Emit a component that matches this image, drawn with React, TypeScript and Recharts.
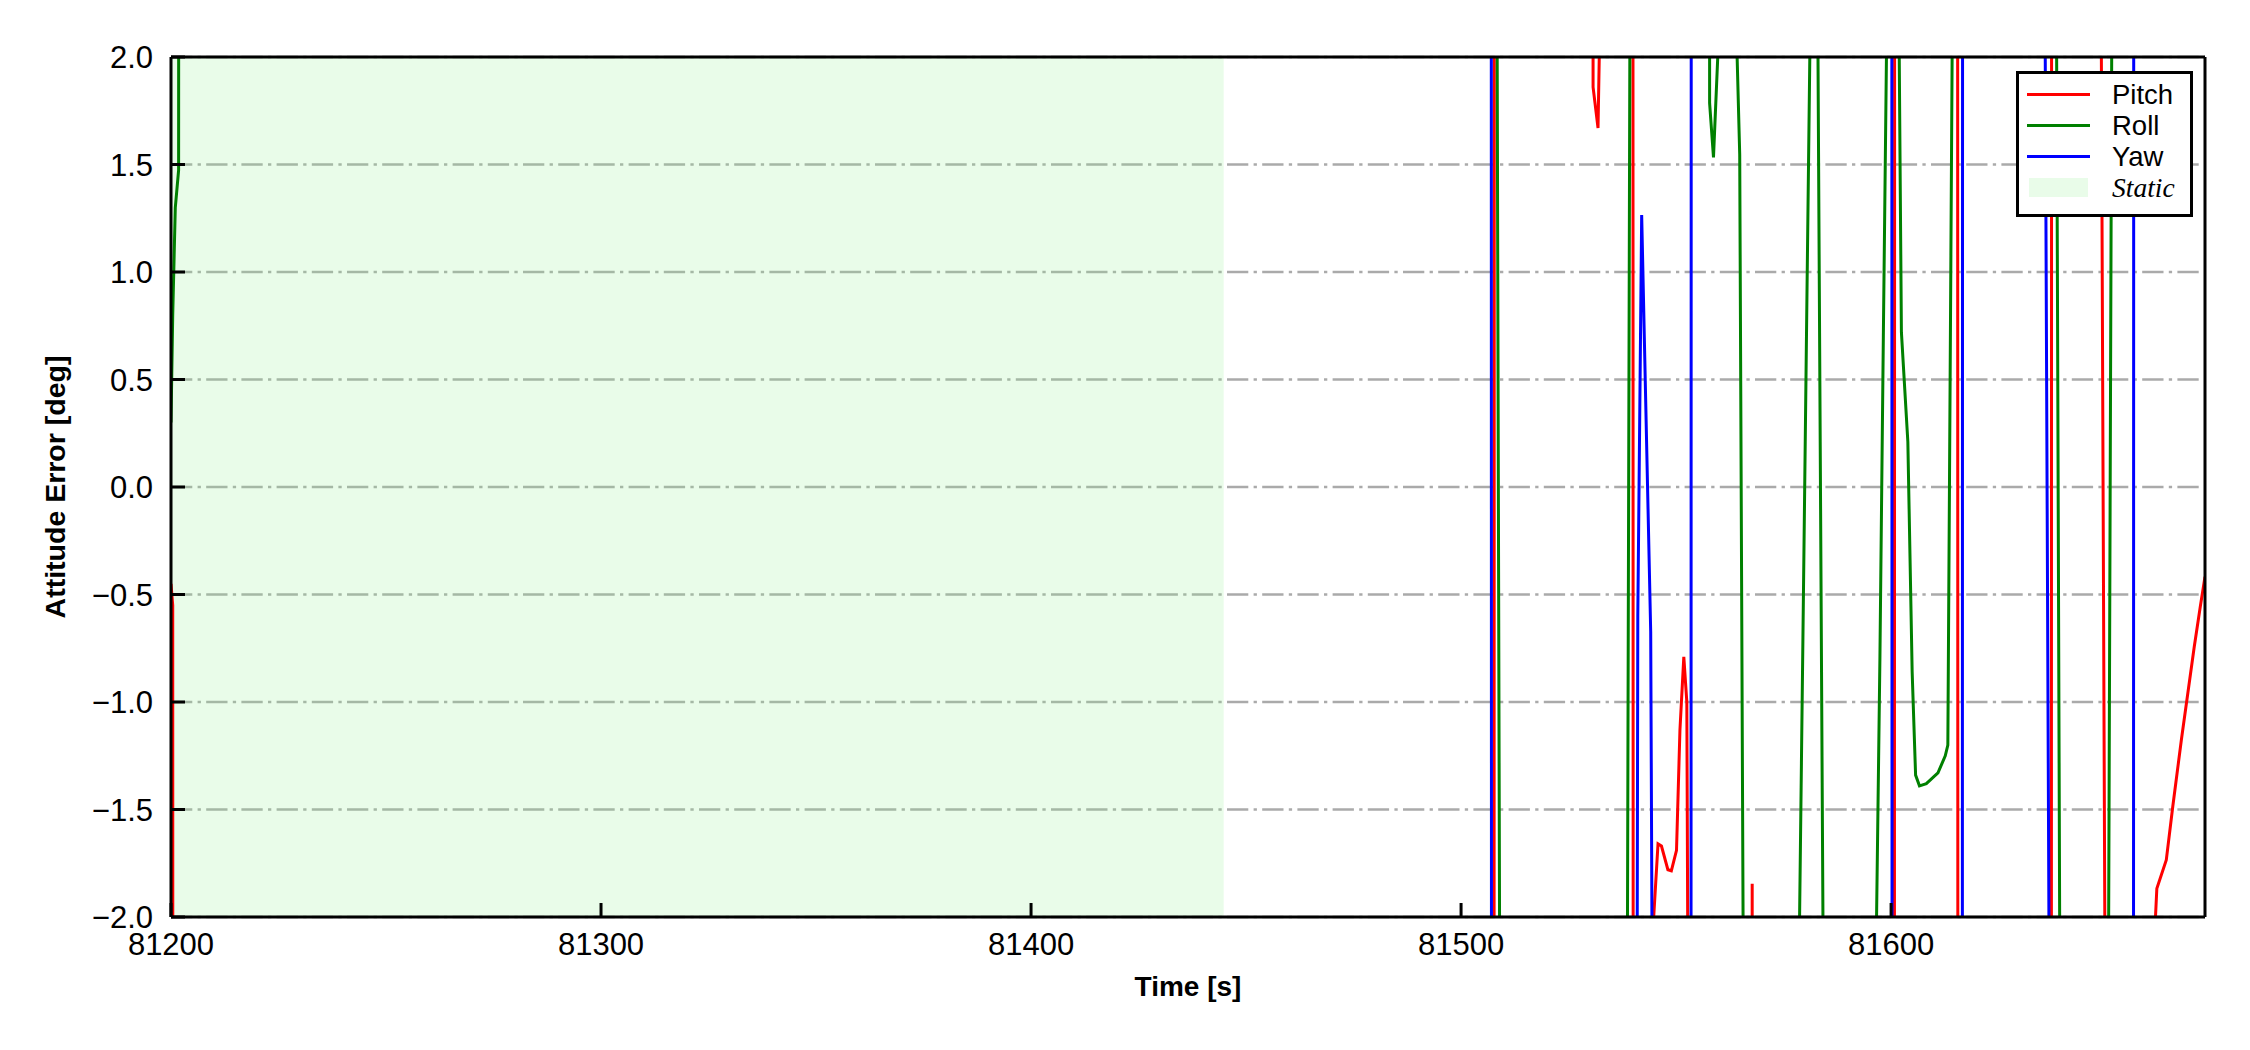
import React from 'react';
import { LineChart, Line, XAxis, YAxis, CartesianGrid, ReferenceArea } from 'recharts';

// ---- data (time [s], attitude error [deg]); values outside ±2 are clipped off-plot ----
const pitchTime = [
  81200, 81200.4, 81200.7, 81507.4, 81508.0, 81530.4, 81530.7, 81531.85, 81532.4, 81533.0,
  81539.7, 81540.3, 81544.3, 81544.65, 81545.8, 81546.6, 81548.1, 81548.9, 81550.1,
  81550.9, 81551.8, 81552.5, 81552.9, 81553.2, 81567.3, 81567.7, 81568.1, 81600.5,
  81601.1, 81615.2, 81615.8, 81637.0, 81637.6, 81648.6, 81650.0, 81660.8, 81661.25,
  81661.8, 81664.0, 81665.5, 81667.5, 81670.5, 81671.9, 81673,
];
const pitchValue = [
  -0.45, -0.55, -30, -30, 30, 30, 1.86, 1.67, 2.3, 30,
  30, -30, -4, -2.05, -1.66, -1.67, -1.78, -1.785, -1.69,
  -1.13, -0.79, -1.0, -3.0, -30, -30, -1.845, -30, -30,
  30, 30, -30, -30, 30, 3.5, -3.5, -30, -2.1,
  -1.867, -1.735, -1.487, -1.177, -0.743, -0.557, -0.417,
];

const rollTime = [
  81200, 81200.4, 81201.0, 81201.77, 81202.3, 81507.5, 81508.1, 81509.3, 81510.0,
  81538.0, 81538.4, 81539.6, 81540.3, 81557.5, 81557.8, 81558.7, 81559.8, 81560.5,
  81563.0, 81563.6, 81564.8, 81566.0, 81567.0, 81577.3, 81578.0, 81579.5, 81580.5,
  81581.7, 81582.1, 81582.6, 81584.5, 81585.2, 81595.6, 81596.3, 81597.4, 81598.2,
  81599.2, 81600.0, 81601.0, 81601.5, 81602.4, 81603.9, 81604.9, 81605.7, 81606.6,
  81608.2, 81610.9, 81612.6, 81613.2, 81614.6, 81615.3, 81637.5, 81638.2, 81639.5,
  81640.2, 81649.6, 81650.3, 81651.6, 81652.3, 81673,
];
const rollValue = [
  0.3, 0.8, 1.3, 1.474, 30, 30, 4.2, -4.6, -30,
  -30, -4.2, 4.6, 30, 30, 1.785, 1.533, 2.05, 30,
  30, 2.45, 1.545, -3.9, -30, -30, -3.2, -0.7, 1.0,
  3.0, 30, 3.4, -3.2, -30, -30, -2.5, -0.8, 0.7,
  2.5, 30, 30, 3.0, 0.72, 0.21, -0.86, -1.34, -1.39,
  -1.38, -1.33, -1.25, -1.2, 3.3, 30, 30, 3.7, -3.7,
  -30, -30, -3.7, 3.7, 30, 30,
];

const yawTime = [
  81200, 81506.8, 81507.3, 81540.2, 81540.6, 81541.1, 81542.0, 81544.1, 81544.6,
  81545.2, 81553.2, 81553.8, 81599.9, 81600.5, 81616.3, 81616.9, 81635.0, 81635.5,
  81637.0, 81637.6, 81656.1, 81656.7, 81673,
];
const yawValue = [
  30, 30, -30, -30, -6, -0.6, 1.265, -0.674, -3.0,
  -30, -30, 30, 30, -30, -30, 30, 30, 3.65,
  -3.4, -30, -30, 30, 30,
];

const seriesNames = ['Pitch', 'Roll', 'Yaw'];
const seriesColors = ['#ff0000', '#008000', '#0000ff'];
const staticLabel = 'Static';
const staticSpan = [81200, 81444.8];

const xTicks = [81200, 81300, 81400, 81500, 81600];
const yTicks = [-2, -1.5, -1, -0.5, 0, 0.5, 1, 1.5, 2];
const xDomain = [81200, 81673];
const yDomain = [-2, 2];
const xTitle = 'Time [s]';
const yTitle = 'Attitude Error [deg]';

const toRows = (ts: number[], vs: number[]) => ts.map((t, i) => ({ t, v: vs[i] }));
const seriesData = [
  toRows(pitchTime, pitchValue),
  toRows(rollTime, rollValue),
  toRows(yawTime, yawValue),
];

const SANS = '"Liberation Sans", Arial, Helvetica, sans-serif';
const SERIF = '"Liberation Serif", "Times New Roman", serif';
const fmtY = (v: number) => v.toFixed(1).replace('-', '\u2212');

const axisStroke = { stroke: '#000', strokeWidth: 3 };
const tickFont = { fontSize: 31, fill: '#000', fontFamily: SANS };

export default function App() {
  const rowY = [94.5, 125.5, 156.5, 187.5];
  return (
    <div style={{ position: 'absolute', left: 0, top: 0, width: 2250, height: 1050, background: '#fff' }}>
      <LineChart width={2250} height={1050} margin={{ top: 56, right: 44, bottom: 73, left: 111 }}>
        <CartesianGrid
          vertical={false}
          stroke="#aaaaaa"
          strokeWidth={2.6}
          strokeDasharray="21.3 5.3 3.3 5.3"
        />
        <ReferenceArea
          x1={staticSpan[0]}
          x2={staticSpan[1]}
          y1={yDomain[0]}
          y2={yDomain[1]}
          fill="#90ee90"
          fillOpacity={0.2}
          stroke="none"
        />
        <XAxis
          dataKey="t"
          type="number"
          domain={xDomain}
          allowDataOverflow
          ticks={xTicks}
          interval={0}
          height={60}
          tickSize={-14}
          tickMargin={30}
          tick={tickFont}
          axisLine={axisStroke}
          tickLine={axisStroke}
        />
        <XAxis
          xAxisId="top"
          orientation="top"
          type="number"
          domain={xDomain}
          allowDataOverflow
          height={1}
          tick={false}
          tickLine={false}
          axisLine={axisStroke}
        />
        <YAxis
          type="number"
          domain={yDomain}
          allowDataOverflow
          ticks={yTicks}
          interval={0}
          width={60}
          tickSize={-14}
          tickMargin={32}
          tickFormatter={fmtY}
          tick={tickFont}
          axisLine={axisStroke}
          tickLine={axisStroke}
        />
        <YAxis
          yAxisId="right"
          orientation="right"
          type="number"
          domain={yDomain}
          allowDataOverflow
          width={1}
          tick={false}
          tickLine={false}
          axisLine={axisStroke}
        />
        {seriesData.map((d, i) => (
          <Line
            key={seriesNames[i]}
            name={seriesNames[i]}
            data={d}
            dataKey="v"
            type="linear"
            stroke={seriesColors[i]}
            strokeWidth={3}
            dot={false}
            activeDot={false}
            isAnimationActive={false}
          />
        ))}
      </LineChart>

      {/* axis titles */}
      <div
        style={{
          position: 'absolute', left: 1188, top: 973.4, transform: 'translateX(-50%)',
          fontFamily: SANS, fontWeight: 'bold', fontSize: 28, lineHeight: '28px', whiteSpace: 'nowrap', color: '#000',
        }}
      >
        {xTitle}
      </div>
      <div
        style={{
          position: 'absolute', left: 55, top: 487, transform: 'translate(-50%, -50%) rotate(-90deg)',
          fontFamily: SANS, fontWeight: 'bold', fontSize: 28.5, lineHeight: '28.5px', whiteSpace: 'nowrap', color: '#000',
        }}
      >
        {yTitle}
      </div>

      {/* legend */}
      <div
        style={{
          position: 'absolute', left: 2016, top: 71, width: 177, height: 146, boxSizing: 'border-box',
          border: '3px solid #000', background: '#fff',
        }}
      />
      {seriesNames.map((n, i) => (
        <React.Fragment key={n}>
          <div style={{ position: 'absolute', left: 2027, top: rowY[i] - 1.5, width: 63, height: 3, background: seriesColors[i] }} />
          <div
            style={{
              position: 'absolute', left: 2112, top: rowY[i] - 13.4, fontFamily: SANS, fontSize: 27.5,
              lineHeight: '27.5px', whiteSpace: 'nowrap', color: '#000',
            }}
          >
            {n}
          </div>
        </React.Fragment>
      ))}
      <div style={{ position: 'absolute', left: 2029, top: rowY[3] - 9.5, width: 59, height: 19, background: 'rgba(144,238,144,0.2)' }} />
      <div
        style={{
          position: 'absolute', left: 2112, top: rowY[3] - 13.9, fontFamily: SERIF, fontStyle: 'italic', fontSize: 27.5,
          lineHeight: '27.5px', whiteSpace: 'nowrap', color: '#000',
        }}
      >
        {staticLabel}
      </div>
    </div>
  );
}
